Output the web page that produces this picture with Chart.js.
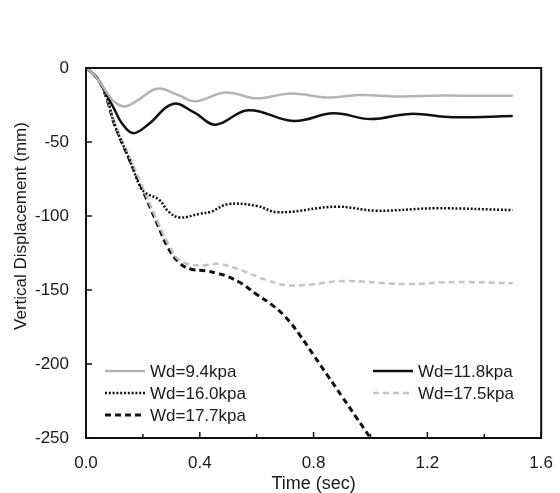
<!DOCTYPE html>
<html>
<head>
<meta charset="utf-8">
<script src="https://cdn.jsdelivr.net/npm/chart.js@4.4.1/dist/chart.umd.min.js"></script>
<style>
    html, body { margin: 0; padding: 0; background: #fff; }
</style>
</head>
<body>
<canvas id="myChart" width="560" height="493"></canvas>
<script>
// Series: time (sec) and vertical displacement (mm)
const labels = ['Wd=9.4kpa', 'Wd=11.8kpa', 'Wd=16.0kpa', 'Wd=17.5kpa', 'Wd=17.7kpa'];

const t94 = [0, 0.025, 0.05, 0.075, 0.1, 0.135, 0.18, 0.25, 0.32, 0.385, 0.49, 0.6, 0.72, 0.85, 0.96, 1.1, 1.25, 1.4, 1.5];
const v94 = [0, -4, -10, -17, -23, -26, -22, -14, -18, -22.5, -16.5, -20.5, -17.3, -20, -18.2, -19.2, -18.6, -18.8, -18.7];

const t118 = [0, 0.025, 0.05, 0.075, 0.1, 0.125, 0.165, 0.22, 0.305, 0.38, 0.455, 0.57, 0.73, 0.87, 1.0, 1.14, 1.29, 1.5];
const v118 = [0, -4, -10, -19, -28, -37, -44, -38, -24.3, -30, -38.3, -28.5, -35.8, -30.6, -34.5, -31, -33.3, -32.4];

const t160 = [0, 0.025, 0.05, 0.075, 0.1, 0.153, 0.19, 0.21, 0.257, 0.29, 0.33, 0.4, 0.44, 0.5, 0.6, 0.675, 0.88, 1.02, 1.23, 1.5];
const v160 = [0, -4, -10, -21, -38, -62, -80, -84.5, -89, -97, -101, -98.5, -97, -92, -93.2, -97.5, -93.7, -96.4, -94.8, -96];

const t175 = [0, 0.025, 0.05, 0.075, 0.1, 0.153, 0.205, 0.25, 0.29, 0.33, 0.4, 0.466, 0.55, 0.63, 0.72, 0.91, 1.12, 1.3, 1.5];
const v175 = [0, -4, -10, -21, -37, -60, -83, -103, -119, -130, -133.5, -132.3, -137, -143, -147, -144, -146, -144.6, -145.5];

const t177 = [0, 0.025, 0.05, 0.075, 0.1, 0.153, 0.205, 0.25, 0.29, 0.33, 0.37, 0.42, 0.466, 0.5, 0.55, 0.6, 0.65, 0.7, 0.75, 0.8, 0.85, 0.9, 0.95, 1.0];
const v177 = [0, -4, -10, -22, -38, -62, -85, -105, -122, -132, -136, -137, -139, -141, -146, -153, -159.5, -168, -180, -194, -208, -222, -236, -250];

const xTicks = [0, 0.4, 0.8, 1.2, 1.6];
const xMinorTicks = [0.2, 0.6, 1.0, 1.4];
const yTicks = [0, -50, -100, -150, -200, -250];

const FONT = '"Liberation Sans", Arial, sans-serif';

function pts(t, v) {
    return t.map((x, i) => ({ x: x, y: v[i] }));
}

// Ticks pointing inward, frame, axis titles and the two-column legend
const decor = {
    id: 'decor',
    afterDatasetsDraw(chart) {
        const ctx = chart.ctx;
        const a = chart.chartArea;
        const xs = chart.scales.x;
        const ys = chart.scales.y;
        ctx.save();
        ctx.strokeStyle = '#111';
        ctx.lineWidth = 2;
        ctx.strokeRect(a.left, a.top, a.right - a.left, a.bottom - a.top);

        ctx.lineWidth = 1.5;
        ctx.beginPath();
        xTicks.forEach(v => {
            const px = xs.getPixelForValue(v);
            ctx.moveTo(px, a.bottom);
            ctx.lineTo(px, a.bottom - 6);
        });
        xMinorTicks.forEach(v => {
            const px = xs.getPixelForValue(v);
            ctx.moveTo(px, a.bottom);
            ctx.lineTo(px, a.bottom - 4);
        });
        yTicks.forEach(v => {
            const py = ys.getPixelForValue(v);
            ctx.moveTo(a.left, py);
            ctx.lineTo(a.left + 6, py);
        });
        ctx.stroke();

        // axis titles
        ctx.fillStyle = '#1a1a1a';
        ctx.textAlign = 'center';
        ctx.textBaseline = 'middle';
        ctx.font = '18px ' + FONT;
        ctx.fillText('Time (sec)', (a.left + a.right) / 2, 484);
        ctx.save();
        ctx.translate(21, 226);
        ctx.rotate(-Math.PI / 2);
        ctx.font = '17px ' + FONT;
        ctx.fillText('Vertical Displacement (mm)', 0, 0);
        ctx.restore();

        // legend
        const lineX = [105, 373];
        const textX = [150, 418];
        const rowY = [371, 393, 415];
        ctx.font = '17px ' + FONT;
        ctx.textAlign = 'left';
        chart.data.datasets.forEach((ds, i) => {
            const col = i % 2;
            const row = Math.floor(i / 2);
            const y = rowY[row];
            ctx.save();
            ctx.strokeStyle = ds.borderColor;
            ctx.lineWidth = ds.borderWidth;
            ctx.setLineDash(ds.borderDash || []);
            ctx.beginPath();
            ctx.moveTo(lineX[col], y);
            ctx.lineTo(lineX[col] + 40, y);
            ctx.stroke();
            ctx.restore();
            ctx.fillStyle = '#1a1a1a';
            ctx.fillText(ds.label, textX[col], y + 1);
        });
        ctx.restore();
    }
};

const ctx = document.getElementById('myChart').getContext('2d');
const myChart = new Chart(ctx, {
    type: 'line',
    data: {
        datasets: [
            { label: labels[0], data: pts(t94, v94), borderColor: '#b4b4b4', borderWidth: 2.5 },
            { label: labels[1], data: pts(t118, v118), borderColor: '#111', borderWidth: 2.5 },
            { label: labels[2], data: pts(t160, v160), borderColor: '#111', borderWidth: 2.5, borderDash: [2, 1.8] },
            { label: labels[3], data: pts(t175, v175), borderColor: '#c4c4c4', borderWidth: 2.5, borderDash: [6, 4] },
            { label: labels[4], data: pts(t177, v177), borderColor: '#111', borderWidth: 3, borderDash: [6, 4] }
        ]
    },
    options: {
        responsive: false,
        animation: false,
        layout: { padding: { top: 68, right: 14, left: 0, bottom: 0 } },
        elements: {
            point: { radius: 0 },
            line: { tension: 0.4, borderCapStyle: 'butt' }
        },
        plugins: {
            legend: { display: false },
            tooltip: { enabled: false }
        },
        scales: {
            x: {
                type: 'linear',
                min: 0,
                max: 1.6,
                afterFit: s => { s.height = 55; },
                afterBuildTicks: s => { s.ticks = xTicks.map(v => ({ value: v })); },
                grid: { display: false },
                border: { display: false },
                ticks: {
                    color: '#1a1a1a',
                    font: { size: 17, family: FONT },
                    padding: 7,
                    maxRotation: 0,
                    callback: v => v.toFixed(1)
                }
            },
            y: {
                min: -250,
                max: 0,
                afterFit: s => { s.width = 86; },
                afterBuildTicks: s => { s.ticks = yTicks.map(v => ({ value: v })); },
                grid: { display: false },
                border: { display: false },
                ticks: {
                    color: '#1a1a1a',
                    font: { size: 17, family: FONT },
                    padding: 9
                }
            }
        }
    },
    plugins: [decor]
});
</script>
</body>
</html>
